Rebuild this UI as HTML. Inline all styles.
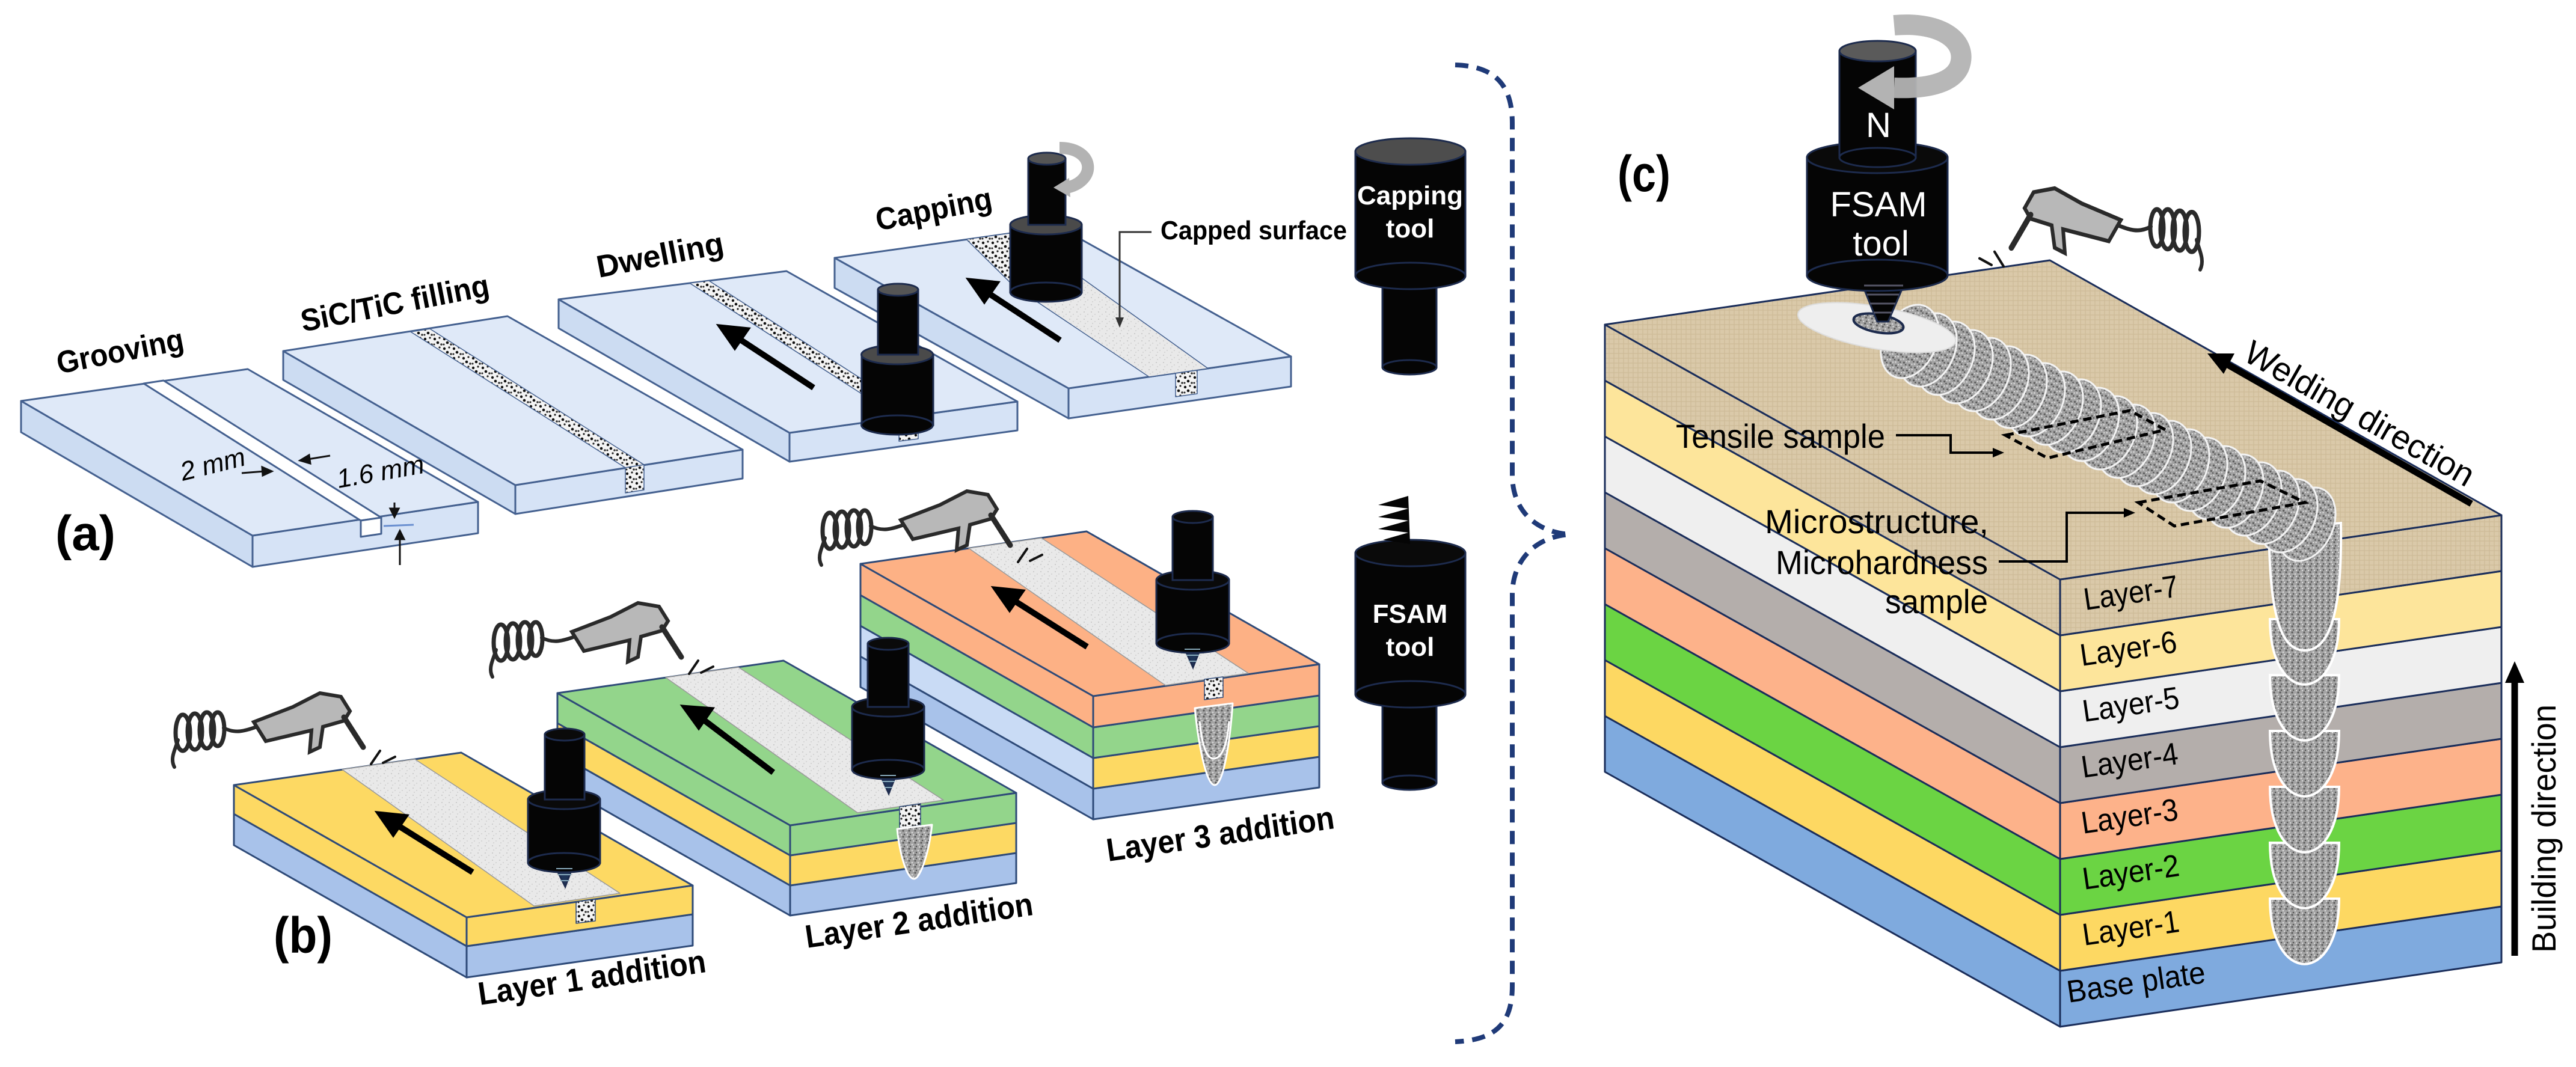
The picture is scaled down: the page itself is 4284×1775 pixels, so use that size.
<!DOCTYPE html>
<html><head><meta charset="utf-8"><style>
html,body{margin:0;padding:0;background:#fff;}
svg{display:block;}
text{font-family:"Liberation Sans",sans-serif;}
</style></head><body>
<svg width="4284" height="1775" viewBox="0 0 4284 1775" xmlns="http://www.w3.org/2000/svg">
<defs>
<pattern id="dots" width="16" height="16" patternUnits="userSpaceOnUse">
<rect width="16" height="16" fill="#f4f4f4"/>
<circle cx="3" cy="4" r="2.2" fill="#111"/><circle cx="11" cy="2" r="1.6" fill="#222"/>
<circle cx="8" cy="10" r="2.3" fill="#111"/><circle cx="14" cy="13" r="1.8" fill="#333"/><circle cx="2" cy="13" r="1.5" fill="#222"/>
</pattern>
<pattern id="spk" width="12" height="12" patternUnits="userSpaceOnUse">
<rect width="12" height="12" fill="#e9e9e9"/>
<circle cx="3" cy="3" r="1" fill="#c4c4c4"/><circle cx="9" cy="7" r="1" fill="#cfcfcf"/><circle cx="5" cy="10" r="0.8" fill="#bdbdbd"/>
</pattern>
<pattern id="gry" width="10" height="10" patternUnits="userSpaceOnUse">
<rect width="10" height="10" fill="#a3a3a3"/>
<circle cx="2" cy="2" r="1.6" fill="#5a5a5a"/><circle cx="7" cy="5" r="1.4" fill="#d6d6d6"/><circle cx="4" cy="8" r="1.3" fill="#555"/><circle cx="9" cy="9" r="1" fill="#eee"/>
</pattern>
<pattern id="tan" width="8" height="8" patternUnits="userSpaceOnUse">
<rect width="8" height="8" fill="#dac9a9"/>
<path d="M0 4H8M4 0V8" stroke="#cdbb98" stroke-width="1.2"/>
</pattern>
<g id="gun" fill="none" stroke="#2a2a2a" stroke-linecap="round">
<path d="M8 125 C0 110 10 95 14 80" stroke-width="6"/>
<ellipse cx="22" cy="68" rx="12" ry="30" stroke-width="7"/>
<ellipse cx="42" cy="66" rx="12" ry="30" stroke-width="7"/>
<ellipse cx="62" cy="64" rx="12" ry="30" stroke-width="7"/>
<ellipse cx="80" cy="62" rx="11" ry="28" stroke-width="7"/>
<path d="M90 60 C110 70 125 65 145 58" stroke-width="6"/>
<path d="M140 50 L205 25 L250 2 L285 8 L300 32 L290 48 L255 58 L250 92 L233 100 L236 64 L160 82 Z" fill="#b8b8b8" stroke-width="6"/>
<path d="M290 42 L322 92" stroke-width="9"/>
<path d="M335 120 L350 98 M355 118 L375 108" stroke-width="4" stroke="#111"/>
</g>
</defs>

<!-- ================= PANEL A ================= -->
<g stroke="#44608f" stroke-width="3" stroke-linejoin="round">
<polygon points="35,667 420,891 420,943 35,719" fill="#ccdcf2"/>
<polygon points="420,891 795,835 795,887 420,943" fill="#d6e3f6"/>
<polygon points="35,667 412,614 795,835 420,891" fill="#dfe9f8"/>
<polygon points="239,638 272,633 634,861 600,866" fill="#fff"/>
<polygon points="600,866 634,861 634,888 600,893" fill="#fff"/>
<polygon points="471,584 857,807 857,855 471,632" fill="#ccdcf2"/>
<polygon points="857,807 1235,748 1235,796 857,855" fill="#d6e3f6"/>
<polygon points="471,584 844,526 1235,748 857,807" fill="#dfe9f8"/>
<polygon points="683,552 715,547 1071,773 1040,778" fill="url(#dots)" stroke-width="1.5"/>
<polygon points="1040,778 1071,773 1071,815 1040,820" fill="url(#dots)" stroke-width="1.5"/>
<polygon points="929,498 1313,720 1313,768 929,546" fill="#ccdcf2"/>
<polygon points="1313,720 1692,668 1692,716 1313,768" fill="#d6e3f6"/>
<polygon points="929,498 1308,451 1692,668 1313,720" fill="#dfe9f8"/>
<polygon points="1147,471 1179,467 1527,691 1495,695" fill="url(#dots)" stroke-width="1.5"/>
<polygon points="1495,695 1527,691 1527,730 1495,734" fill="url(#dots)" stroke-width="1.5"/>
<polygon points="1388,429 1777,646 1777,696 1388,479" fill="#ccdcf2"/>
<polygon points="1777,646 2147,593 2147,643 1777,696" fill="#d6e3f6"/>
<polygon points="1388,429 1760,377 2147,593 1777,646" fill="#dfe9f8"/>
<polygon points="1607,398 1679,388 1770,468 1690,480" fill="url(#dots)" stroke-width="1.5"/>
<polygon points="1680,472 1790,456 2009,613 1911,627" fill="url(#spk)" stroke-width="1.5"/>
<polygon points="1955,621 1991,616 1991,655 1955,660" fill="url(#dots)" stroke-width="1.5"/>
</g>
<g stroke="#111" stroke-width="3" fill="#111">
<line x1="402" y1="787" x2="440" y2="784"/><polygon points="452,784 436,777 437,791"/>
<line x1="549" y1="758" x2="512" y2="764"/><polygon points="499,766 514,757 516,771"/>
<line x1="656" y1="836" x2="656" y2="850"/><polygon points="656,860 649,846 663,846"/>
<line x1="665" y1="940" x2="665" y2="895"/><polygon points="665,883 658,897 672,897"/>
</g>
<line x1="638" y1="875" x2="688" y2="873" stroke="#6a8fd0" stroke-width="3"/>
<text x="304" y="800" font-size="44" font-style="italic" transform="rotate(-14 304 800)">2 mm</text>
<text x="563" y="812" font-size="44" font-style="italic" transform="rotate(-10 563 812)">1.6 mm</text>
<g stroke="#000" stroke-width="10" fill="#000">
<line x1="1353" y1="645" x2="1225" y2="561"/><polygon points="1201,545 1240,549 1222,575"/>
<line x1="1763" y1="566" x2="1638" y2="484"/><polygon points="1616,468 1655,472 1637,498"/>
</g>
<g stroke="#1d2b4d" stroke-width="3">
<rect x="1433" y="590" width="119" height="117" fill="#050505"/><ellipse cx="1492" cy="707" rx="59.5" ry="16" fill="#050505"/>
<ellipse cx="1492" cy="590" rx="59.5" ry="16" fill="#4a4a4a"/>
<rect x="1460" y="482" width="67" height="108" fill="#050505"/><ellipse cx="1493.5" cy="482" rx="33.5" ry="10" fill="#555"/>
<rect x="1680" y="374" width="119" height="112" fill="#050505"/><ellipse cx="1739.5" cy="486" rx="59.5" ry="16" fill="#050505"/>
<ellipse cx="1739.5" cy="374" rx="59.5" ry="16" fill="#4a4a4a"/>
<rect x="1710" y="264" width="62" height="110" fill="#050505"/><ellipse cx="1741" cy="264" rx="31" ry="10" fill="#555"/>
</g>
<path d="M1762,246 C1820,246 1825,300 1775,312" fill="none" stroke="#b3b3b3" stroke-width="20"/>
<polygon points="1752,312 1778,296 1780,328" fill="#b3b3b3"/>
<polyline points="1915,386 1862,386 1862,530" fill="none" stroke="#333" stroke-width="3"/>
<polygon points="1862,545 1855,528 1869,528" fill="#333"/>
<g font-weight="bold" font-size="52">
<text x="98" y="622" transform="rotate(-11 98 622)" textLength="214" lengthAdjust="spacingAndGlyphs">Grooving</text>
<text x="504" y="552" transform="rotate(-11 504 552)" textLength="318" lengthAdjust="spacingAndGlyphs">SiC/TiC filling</text>
<text x="996" y="462" transform="rotate(-11 996 462)" textLength="214" lengthAdjust="spacingAndGlyphs">Dwelling</text>
<text x="1460" y="384" transform="rotate(-11 1460 384)" textLength="196" lengthAdjust="spacingAndGlyphs">Capping</text>
<text x="1930" y="398" font-size="44" textLength="310" lengthAdjust="spacingAndGlyphs">Capped surface</text>
<text x="92" y="915" font-size="82" textLength="100" lengthAdjust="spacingAndGlyphs">(a)</text>
</g>

<g stroke="#1d2b4d" stroke-width="3">
<rect x="2299" y="450" width="90" height="161" fill="#050505"/><ellipse cx="2344" cy="611" rx="45" ry="12" fill="#050505"/>
<rect x="2254" y="252" width="183" height="207" fill="#050505"/><ellipse cx="2345.5" cy="459" rx="91.5" ry="22" fill="#050505"/>
<ellipse cx="2345.5" cy="252" rx="91.5" ry="22" fill="#4d4d4d"/>
<rect x="2299" y="1140" width="90" height="162" fill="#050505"/><ellipse cx="2344" cy="1302" rx="45" ry="12" fill="#050505"/>
<rect x="2254" y="920" width="183" height="235" fill="#050505"/><ellipse cx="2345.5" cy="1155" rx="91.5" ry="22" fill="#050505"/>
<ellipse cx="2345.5" cy="920" rx="91.5" ry="22" fill="#0a0a0a"/>
</g>
<polygon points="2342,825 2292,840 2342,846 2292,860 2342,866 2292,880 2342,886 2300,898 2345,905" fill="#050505"/>
<g fill="#fff" font-weight="bold" font-size="44" text-anchor="middle">
<text x="2345" y="340">Capping</text><text x="2345" y="395">tool</text>
<text x="2345" y="1036">FSAM</text><text x="2345" y="1091">tool</text>
</g>

<!-- ================= PANEL B ================= -->
<g stroke="#2e4a78" stroke-width="3" stroke-linejoin="round">
<polygon points="389,1354 776,1574 776,1626 389,1406" fill="#a8c2ea"/>
<polygon points="776,1574 1152,1521 1152,1573 776,1626" fill="#a8c2ea"/>
<polygon points="389,1306 776,1526 776,1574 389,1354" fill="#fdd963"/>
<polygon points="776,1526 1152,1473 1152,1521 776,1574" fill="#fdd963"/>
<polygon points="389,1306 767,1252 1152,1473 776,1526" fill="#fdd963"/>
<polygon points="569,1280 690,1263 1031,1486 888,1507" fill="url(#spk)" stroke="#999" stroke-width="1.5"/>
<polygon points="958,1500 990,1496 990,1532 958,1536" fill="url(#dots)" stroke-width="1.5"/>
<polygon points="927,1253 1314,1473 1314,1523 927,1303" fill="#a8c2ea"/>
<polygon points="1314,1473 1690,1419 1690,1469 1314,1523" fill="#a8c2ea"/>
<polygon points="927,1203 1314,1423 1314,1473 927,1253" fill="#fdd963"/>
<polygon points="1314,1423 1690,1369 1690,1419 1314,1473" fill="#fdd963"/>
<polygon points="927,1153 1314,1373 1314,1423 927,1203" fill="#93d58b"/>
<polygon points="1314,1373 1690,1319 1690,1369 1314,1423" fill="#93d58b"/>
<polygon points="927,1153 1303,1099 1690,1319 1314,1373" fill="#93d58b"/>
<polygon points="1107,1127 1228,1110 1569,1331 1426,1352" fill="url(#spk)" stroke="#999" stroke-width="1.5"/>
<polygon points="1496,1342 1531,1337 1531,1373 1496,1378" fill="url(#dots)" stroke-width="1.5"/>
<path d="M1492,1379 L1550,1372 C1545,1420 1530,1462 1520,1462 C1508,1462 1496,1420 1492,1379 Z" fill="url(#gry)" stroke="#fff" stroke-width="3"/>
<polygon points="1431,1092 1818,1312 1818,1363 1431,1143" fill="#a8c2ea"/>
<polygon points="1818,1312 2194,1259 2194,1310 1818,1363" fill="#a8c2ea"/>
<polygon points="1431,1041 1818,1261 1818,1312 1431,1092" fill="#c9dbf5"/>
<polygon points="1818,1261 2194,1208 2194,1259 1818,1312" fill="#fdd963"/>
<polygon points="1431,990 1818,1210 1818,1261 1431,1041" fill="#93d58b"/>
<polygon points="1818,1210 2194,1157 2194,1208 1818,1261" fill="#93d58b"/>
<polygon points="1431,938 1818,1158 1818,1210 1431,990" fill="#fdb185"/>
<polygon points="1818,1158 2194,1105 2194,1157 1818,1210" fill="#fdb185"/>
<polygon points="1431,938 1807,884 2194,1105 1818,1158" fill="#fdb185"/>
<polygon points="1611,912 1732,895 2076,1120 1938,1140" fill="url(#spk)" stroke="#999" stroke-width="1.5"/>
<polygon points="2003,1130 2034,1126 2034,1160 2003,1164" fill="url(#dots)" stroke-width="1.5"/>
<path d="M1987,1178 L2050,1170 C2046,1230 2035,1306 2020,1306 C2005,1306 1992,1230 1987,1178 Z" fill="url(#gry)" stroke="#fff" stroke-width="3"/>
<path d="M1995,1200 C2000,1250 2010,1262 2018,1262 C2028,1262 2040,1250 2044,1200" fill="none" stroke="#fff" stroke-width="3"/>
</g>
<g stroke="#000" stroke-width="10" fill="#000">
<line x1="786" y1="1451" x2="655" y2="1369"/><polygon points="633,1355 672,1359 654,1385"/>
<line x1="1286" y1="1285" x2="1163" y2="1192"/><polygon points="1141,1178 1180,1181 1162,1207"/>
<line x1="1808" y1="1076" x2="1680" y2="995"/><polygon points="1658,981 1697,985 1679,1011"/>
</g>
<g stroke="#1d2b4d" stroke-width="3">
<polygon points="920,1435 955,1435 940,1475" fill="#1f3558"/>
<rect x="878" y="1330" width="120" height="105" fill="#050505"/><ellipse cx="938" cy="1435" rx="60" ry="16" fill="#050505"/><ellipse cx="938" cy="1330" rx="60" ry="16" fill="#0a0a0a"/>
<rect x="906" y="1222" width="66" height="108" fill="#050505"/><ellipse cx="939" cy="1222" rx="33" ry="10" fill="#0a0a0a"/>
<polygon points="1460,1280 1494,1280 1478,1320" fill="#1f3558"/>
<rect x="1417" y="1176" width="120" height="104" fill="#050505"/><ellipse cx="1477" cy="1280" rx="60" ry="16" fill="#050505"/><ellipse cx="1477" cy="1176" rx="60" ry="16" fill="#0a0a0a"/>
<rect x="1443" y="1071" width="68" height="105" fill="#050505"/><ellipse cx="1477" cy="1071" rx="34" ry="10" fill="#0a0a0a"/>
<polygon points="1966,1070 2000,1070 1984,1110" fill="#1f3558"/>
<rect x="1923" y="965" width="121" height="105" fill="#050505"/><ellipse cx="1983.5" cy="1070" rx="60.5" ry="16" fill="#050505"/><ellipse cx="1983.5" cy="965" rx="60.5" ry="16" fill="#0a0a0a"/>
<rect x="1950" y="860" width="67" height="105" fill="#050505"/><ellipse cx="1983.5" cy="860" rx="33.5" ry="10" fill="#0a0a0a"/>
</g>
<g stroke="#8ab" stroke-width="2">
<line x1="925" y1="1445" x2="952" y2="1445"/><line x1="928" y1="1455" x2="950" y2="1455"/><line x1="932" y1="1465" x2="947" y2="1465"/>
<line x1="1464" y1="1290" x2="1490" y2="1290"/><line x1="1467" y1="1300" x2="1488" y2="1300"/><line x1="1471" y1="1310" x2="1484" y2="1310"/>
<line x1="1970" y1="1080" x2="1996" y2="1080"/><line x1="1973" y1="1090" x2="1994" y2="1090"/><line x1="1977" y1="1100" x2="1990" y2="1100"/>
</g>
<use href="#gun" transform="translate(282,1151)"/>
<use href="#gun" transform="translate(811,1001)"/>
<use href="#gun" transform="translate(1358,815)"/>
<g font-weight="bold" font-size="54">
<text x="798" y="1672" transform="rotate(-8.3 798 1672)" textLength="382" lengthAdjust="spacingAndGlyphs">Layer 1 addition</text>
<text x="1342" y="1577" transform="rotate(-8.3 1342 1577)" textLength="382" lengthAdjust="spacingAndGlyphs">Layer 2 addition</text>
<text x="1843" y="1433" transform="rotate(-8.3 1843 1433)" textLength="382" lengthAdjust="spacingAndGlyphs">Layer 3 addition</text>
<text x="455" y="1585" font-size="84" textLength="98" lengthAdjust="spacingAndGlyphs">(b)</text>
</g>

<path d="M2420,108 C2485,110 2515,140 2515,205 L2515,790 C2515,850 2555,885 2610,889 C2555,893 2515,930 2515,990 L2515,1640 C2515,1705 2485,1730 2420,1733" fill="none" stroke="#1f3a78" stroke-width="8" stroke-dasharray="22,14"/>

<!-- ================= PANEL C ================= -->
<g stroke="#1a2d5a" stroke-width="3" stroke-linejoin="round">
<polygon points="2669,1191 3426,1615 3426,1708 2669,1284" fill="#7faade"/>
<polygon points="3426,1615 4160,1508 4160,1601 3426,1708" fill="#7faade"/>
<polygon points="2669,1098 3426,1522 3426,1615 2669,1191" fill="#fdd862"/>
<polygon points="3426,1522 4160,1415 4160,1508 3426,1615" fill="#fdd862"/>
<polygon points="2669,1005 3426,1429 3426,1522 2669,1098" fill="#6bd443"/>
<polygon points="3426,1429 4160,1322 4160,1415 3426,1522" fill="#6bd443"/>
<polygon points="2669,912 3426,1336 3426,1429 2669,1005" fill="#fdb28a"/>
<polygon points="3426,1336 4160,1229 4160,1322 3426,1429" fill="#fdb28a"/>
<polygon points="2669,819 3426,1243 3426,1336 2669,912" fill="#b4aeab"/>
<polygon points="3426,1243 4160,1136 4160,1229 3426,1336" fill="#b4aeab"/>
<polygon points="2669,726 3426,1150 3426,1243 2669,819" fill="#efefef"/>
<polygon points="3426,1150 4160,1043 4160,1136 3426,1243" fill="#efefef"/>
<polygon points="2669,633 3426,1057 3426,1150 2669,726" fill="#fde59b"/>
<polygon points="3426,1057 4160,950 4160,1043 3426,1150" fill="#fde59b"/>
<polygon points="2669,540 3426,964 3426,1057 2669,633" fill="url(#tan)"/>
<polygon points="3426,964 4160,857 4160,950 3426,1057" fill="url(#tan)"/>
<polygon points="2669,540 3409,433 4160,857 3426,964" fill="url(#tan)"/>
</g>
<g fill="url(#gry)" stroke="#fff" stroke-width="4">
<path d="M3775,1495 C3775,1640 3890,1640 3890,1495 Z"/>
<path d="M3775,1402 C3775,1547 3890,1547 3890,1402 Z"/>
<path d="M3775,1309 C3775,1454 3890,1454 3890,1309 Z"/>
<path d="M3775,1216 C3775,1361 3890,1361 3890,1216 Z"/>
<path d="M3775,1123 C3775,1268 3890,1268 3890,1123 Z"/>
<path d="M3775,1030 C3775,1175 3890,1175 3890,1030 Z"/>
<path d="M3773,880 L3893,870 C3895,1000 3880,1082 3833,1082 C3786,1082 3775,1000 3773,880 Z"/>
</g>
<g fill="url(#gry)" stroke="#f4f4f4" stroke-width="3">
<ellipse cx="3836" cy="872" rx="64" ry="44" transform="rotate(114.7 3836 872)"/>
<ellipse cx="3806" cy="858" rx="64" ry="44" transform="rotate(114.7 3806 858)"/>
<ellipse cx="3776" cy="844" rx="64" ry="44" transform="rotate(114.7 3776 844)"/>
<ellipse cx="3746" cy="830" rx="64" ry="44" transform="rotate(114.7 3746 830)"/>
<ellipse cx="3716" cy="817" rx="64" ry="44" transform="rotate(114.7 3716 817)"/>
<ellipse cx="3686" cy="803" rx="64" ry="44" transform="rotate(114.7 3686 803)"/>
<ellipse cx="3656" cy="789" rx="64" ry="44" transform="rotate(114.7 3656 789)"/>
<ellipse cx="3626" cy="775" rx="64" ry="44" transform="rotate(114.7 3626 775)"/>
<ellipse cx="3596" cy="761" rx="64" ry="44" transform="rotate(114.7 3596 761)"/>
<ellipse cx="3566" cy="748" rx="64" ry="44" transform="rotate(114.7 3566 748)"/>
<ellipse cx="3536" cy="734" rx="64" ry="44" transform="rotate(114.7 3536 734)"/>
<ellipse cx="3506" cy="720" rx="64" ry="44" transform="rotate(114.7 3506 720)"/>
<ellipse cx="3476" cy="706" rx="64" ry="44" transform="rotate(114.7 3476 706)"/>
<ellipse cx="3446" cy="692" rx="64" ry="44" transform="rotate(114.7 3446 692)"/>
<ellipse cx="3416" cy="679" rx="64" ry="44" transform="rotate(114.7 3416 679)"/>
<ellipse cx="3386" cy="665" rx="64" ry="44" transform="rotate(114.7 3386 665)"/>
<ellipse cx="3356" cy="651" rx="64" ry="44" transform="rotate(114.7 3356 651)"/>
<ellipse cx="3326" cy="637" rx="64" ry="44" transform="rotate(114.7 3326 637)"/>
<ellipse cx="3296" cy="623" rx="64" ry="44" transform="rotate(114.7 3296 623)"/>
<ellipse cx="3266" cy="610" rx="64" ry="44" transform="rotate(114.7 3266 610)"/>
<ellipse cx="3236" cy="596" rx="64" ry="44" transform="rotate(114.7 3236 596)"/>
<ellipse cx="3206" cy="582" rx="64" ry="44" transform="rotate(114.7 3206 582)"/>
<ellipse cx="3176" cy="568" rx="64" ry="44" transform="rotate(114.7 3176 568)"/>
</g>
<ellipse cx="3121" cy="545" rx="133" ry="35" transform="rotate(10 3121 545)" fill="#eeeeee" stroke="#ddd" stroke-width="2"/>
<ellipse cx="3124" cy="538" rx="42" ry="15" transform="rotate(10 3124 538)" fill="url(#gry)" stroke="#1d2b4d" stroke-width="4"/>
<g fill="none" stroke="#000" stroke-width="5" stroke-dasharray="14,8">
<polygon points="3335,724 3542,683 3601,715 3405,762"/>
<polygon points="3556,836 3759,800 3833,836 3616,875"/>
</g>
<g fill="none" stroke="#000" stroke-width="4">
<polyline points="3153,724 3244,724 3244,753 3316,753"/>
<polyline points="3324,934 3437,934 3437,853 3534,853"/>
</g>
<polygon points="3333,753 3314,745 3314,761" fill="#000"/>
<polygon points="3551,853 3532,845 3532,861" fill="#000"/>
<g stroke="#1d2b4d" stroke-width="3">
<polygon points="3091,458 3173,458 3140,535 3122,535" fill="#050505"/>
<rect x="3005" y="262" width="234" height="196" fill="#050505"/><ellipse cx="3122" cy="458" rx="117" ry="26" fill="#050505"/>
<ellipse cx="3122" cy="262" rx="117" ry="26" fill="#0a0a0a"/>
<rect x="3059" y="85" width="127" height="177" fill="#050505"/><ellipse cx="3122.5" cy="262" rx="63.5" ry="16" fill="#050505"/>
<ellipse cx="3122.5" cy="85" rx="63.5" ry="17" fill="#5a5a5a"/>
</g>
<g stroke="#556" stroke-width="3"><line x1="3100" y1="475" x2="3165" y2="475"/><line x1="3105" y1="490" x2="3158" y2="490"/><line x1="3110" y1="505" x2="3152" y2="505"/><line x1="3116" y1="520" x2="3146" y2="520"/></g>
<path d="M3150,42 C3230,35 3275,70 3258,112 C3245,140 3200,148 3150,146" fill="none" stroke="#b3b3b3" stroke-width="34" opacity="0.95"/>
<polygon points="3090,146 3150,110 3150,182" fill="#b3b3b3"/>
<g fill="#fff" font-size="58" text-anchor="middle">
<text x="3124" y="228">N</text><text x="3124" y="360">FSAM</text><text x="3128" y="425">tool</text>
</g>
<use href="#gun" transform="translate(3667,311) scale(-1,1.1)"/>
<g font-size="56" fill="#000">
<text x="2787" y="745" textLength="348" lengthAdjust="spacingAndGlyphs">Tensile sample</text>
<text x="2935" y="887" textLength="372" lengthAdjust="spacingAndGlyphs">Microstructure,</text>
<text x="2953" y="955" textLength="353" lengthAdjust="spacingAndGlyphs">Microhardness</text>
<text x="3135" y="1020" textLength="171" lengthAdjust="spacingAndGlyphs">sample</text>
</g>
<g font-size="52" fill="#000">
<text x="3468" y="1015" transform="rotate(-8.3 3468 1015)" textLength="158" lengthAdjust="spacingAndGlyphs">Layer-7</text>
<text x="3462" y="1108" transform="rotate(-8.3 3462 1108)" textLength="162" lengthAdjust="spacingAndGlyphs">Layer-6</text>
<text x="3466" y="1201" transform="rotate(-8.3 3466 1201)" textLength="162" lengthAdjust="spacingAndGlyphs">Layer-5</text>
<text x="3464" y="1294" transform="rotate(-8.3 3464 1294)" textLength="162" lengthAdjust="spacingAndGlyphs">Layer-4</text>
<text x="3464" y="1387" transform="rotate(-8.3 3464 1387)" textLength="162" lengthAdjust="spacingAndGlyphs">Layer-3</text>
<text x="3466" y="1480" transform="rotate(-8.3 3466 1480)" textLength="162" lengthAdjust="spacingAndGlyphs">Layer-2</text>
<text x="3466" y="1573" transform="rotate(-8.3 3466 1573)" textLength="162" lengthAdjust="spacingAndGlyphs">Layer-1</text>
<text x="3440" y="1668" transform="rotate(-8.3 3440 1668)" textLength="232" lengthAdjust="spacingAndGlyphs">Base plate</text>
</g>
<line x1="4110" y1="838" x2="3700" y2="604" stroke="#000" stroke-width="11"/>
<polygon points="3671,588 3716,588 3698,622" fill="#000"/>
<text x="3728" y="598" font-size="56" transform="rotate(29.7 3728 598)" textLength="430" lengthAdjust="spacingAndGlyphs">Welding direction</text>
<line x1="4182" y1="1590" x2="4182" y2="1130" stroke="#000" stroke-width="11"/>
<polygon points="4182,1100 4166,1136 4198,1136" fill="#000"/>
<text x="4250" y="1585" font-size="56" transform="rotate(-90 4250 1585)" textLength="413" lengthAdjust="spacingAndGlyphs">Building direction</text>
<text x="2690" y="318" font-size="84" font-weight="bold" textLength="88" lengthAdjust="spacingAndGlyphs">(c)</text>
</svg>
</body></html>
